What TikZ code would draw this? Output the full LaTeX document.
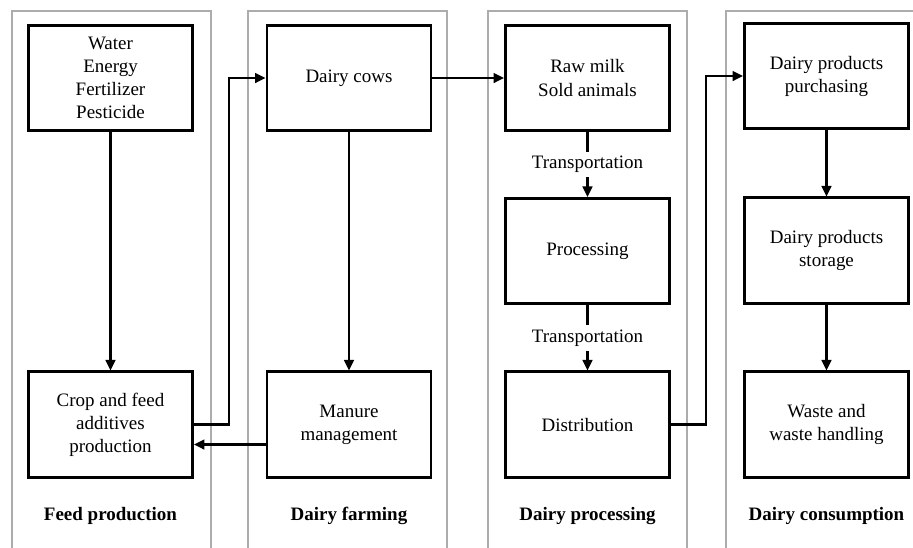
\documentclass[tikz,border=0pt]{standalone}
\usepackage{fontspec}
\setmainfont{Liberation Serif}
\usetikzlibrary{positioning,arrows.meta,calc}
\definecolor{PanelGray}{RGB}{172,172,172}

\begin{document}
\begin{tikzpicture}[x=0.025cm,y=-0.025cm,
    every node/.style={font=\fontsize{13.5}{16.4}\selectfont, align=center},
    stagebox/.style={draw, line width=2pt, minimum width=4.1cm,
      minimum height=2.63cm, inner sep=0pt},
    tag/.style={font=\fontsize{13.5}{16.4}\selectfont\bfseries},
    flow/.style={-{Triangle[length=7.5pt,width=7pt]}, line width=1.5pt},
    band/.style={draw=PanelGray, line width=2pt}]
  \clip (0,0) rectangle (913,547);
  % column bands
  \foreach \xl in {12,248,488,726}
    \draw[band] (\xl,11) rectangle ++(199,600);

  \node[stagebox] (water) at (110.5,78) {Water\\Energy\\Fertilizer\\Pesticide};
  \node[stagebox] (crop) at (110.5,424.5) {Crop and feed\\additives\\production};
  \node[stagebox] (cows) at (349,78) {Dairy cows};
  \node[stagebox] (manure) at (349,424.5) {Manure\\management};
  \node[stagebox] (milk) at (587.5,78) {Raw milk\\Sold animals};
  \node[stagebox] (proc) at (587.5,251) {Processing};
  \node[stagebox] (distr) at (587.5,424.5) {Distribution};
  \node[stagebox] (buy) at (826.5,76) {Dairy products\\purchasing};
  \node[stagebox] (store) at (826.5,250.5) {Dairy products\\storage};
  \node[stagebox] (waste) at (826.5,424.5) {Waste and\\waste handling};

  \node[tag] (lfeed) at (110.5,516) {Feed production};
  \node[tag] (lfarm) at (349,516) {Dairy farming};
  \node[tag] (lproc) at (587.5,516) {Dairy processing};
  \node[tag] (lcons) at (826.5,516) {Dairy consumption};

  \draw[flow] (water) -- (crop);
  \draw[flow] (cows) -- (manure);
  \draw[flow] (cows) -- (milk);
  \draw[flow] (crop.east) -- ++(35,0) |- (cows.west);
  \draw[flow] ($(manure.west)+(0,20)$) -- ($(crop.east)+(0,20)$);
  \draw[flow] (milk) -- node[fill=white]{Transportation} (proc);
  \draw[flow] (proc) -- node[fill=white]{Transportation} (distr);
  \draw[flow] (distr.east) -- ++(35,0) |- (buy.west);
  \draw[flow] (buy) -- (store);
  \draw[flow] (store) -- (waste);
\end{tikzpicture}
\end{document}
